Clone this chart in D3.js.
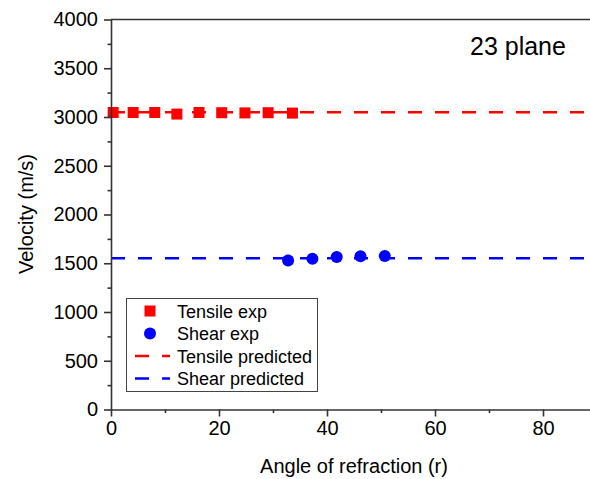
<!DOCTYPE html>
<html>
<head>
<meta charset="utf-8">
<script src="https://cdn.jsdelivr.net/npm/d3@7"></script>
<style>
  body { margin: 0; background: #fff; }
  svg { font-family: "Liberation Sans", Arial, sans-serif; }
</style>
</head>
<body>
<div id="chart"></div>
<script>
// Tensile experimental points
const tensileAngle = [0.4, 4.1, 8.1, 12.2, 16.3, 20.5, 24.8, 29.1, 33.6];
const tensileVel = [3046, 3046, 3046, 3030, 3046, 3044, 3042, 3044, 3040];
// Shear experimental points
const shearAngle = [32.8, 37.3, 41.8, 46.2, 50.7];
const shearVel = [1527, 1545, 1565, 1572, 1575];
// Predicted (constant) velocities
const tensilePred = 3048;
const shearPred = 1552;
const xTicks = [0, 20, 40, 60, 80];
const yTicks = [0, 500, 1000, 1500, 2000, 2500, 3000, 3500, 4000];

(function() {
    const W = 590, H = 479;
    const plotLeft = 111, plotTop = 19.5, plotBottom = 409.5;

    const svg = d3.select("#chart").append("svg")
        .attr("width", W)
        .attr("height", H);

    const x = d3.scaleLinear().domain([0, 90]).range([plotLeft, plotLeft + 90 * 5.4]);
    const y = d3.scaleLinear().domain([0, 4000]).range([plotBottom, plotTop]);

    // predicted lines
    const predLines = [
        {v: tensilePred, color: "#ff0000"},
        {v: shearPred, color: "#0000ff"}
    ];
    svg.selectAll("line.pred")
        .data(predLines)
        .enter()
        .append("line")
        .attr("class", "pred")
        .attr("x1", x(0))
        .attr("x2", x(90))
        .attr("y1", d => y(d.v))
        .attr("y2", d => y(d.v))
        .attr("stroke", d => d.color)
        .attr("stroke-width", 2.6)
        .attr("stroke-dasharray", "14,13");

    // tensile squares
    svg.selectAll("rect.tensile")
        .data(tensileAngle.map((a, i) => ({a, v: tensileVel[i]})))
        .enter()
        .append("rect")
        .attr("class", "tensile")
        .attr("x", d => x(d.a) - 5.5)
        .attr("y", d => y(d.v) - 5.5)
        .attr("width", 11)
        .attr("height", 11)
        .attr("fill", "#ff0000");

    // shear circles
    svg.selectAll("circle.shear")
        .data(shearAngle.map((a, i) => ({a, v: shearVel[i]})))
        .enter()
        .append("circle")
        .attr("class", "shear")
        .attr("cx", d => x(d.a))
        .attr("cy", d => y(d.v))
        .attr("r", 6)
        .attr("fill", "#0000ff");

    // axes
    svg.append("g")
        .attr("transform", `translate(0,${plotBottom})`)
        .call(d3.axisBottom(x).tickValues(xTicks).tickSize(7).tickPadding(4).tickSizeOuter(0));
    svg.append("g")
        .attr("transform", `translate(0,${plotBottom})`)
        .call(d3.axisBottom(x).tickValues([10, 30, 50, 70]).tickSize(3.5).tickFormat("").tickSizeOuter(0))
        .select(".domain").remove();

    svg.append("g")
        .attr("transform", `translate(${plotLeft},0)`)
        .call(d3.axisLeft(y).tickValues(yTicks).tickFormat(d3.format("d")).tickSize(7).tickPadding(6).tickSizeOuter(0));
    svg.append("g")
        .attr("transform", `translate(${plotLeft},0)`)
        .call(d3.axisLeft(y).tickValues(d3.range(250, 4000, 500)).tickSize(3.5).tickFormat("").tickSizeOuter(0))
        .select(".domain").remove();

    svg.selectAll(".tick text")
        .style("font-size", "20px")
        .style("font-family", "'Liberation Sans', Arial, sans-serif")
        .style("fill", "#000");
    svg.selectAll(".domain, .tick line")
        .attr("stroke", "#333")
        .attr("stroke-width", 1.6);

    // top frame line
    svg.append("line")
        .attr("x1", plotLeft)
        .attr("x2", x(90))
        .attr("y1", plotTop)
        .attr("y2", plotTop)
        .attr("stroke", "#333")
        .attr("stroke-width", 1.6);

    // axis titles
    svg.append("text")
        .attr("x", x(45))
        .attr("y", 473)
        .attr("text-anchor", "middle")
        .style("font-size", "20px")
        .text("Angle of refraction (r)");

    svg.append("text")
        .attr("transform", `translate(33,214) rotate(-90)`)
        .attr("text-anchor", "middle")
        .style("font-size", "20px")
        .text("Velocity (m/s)");

    svg.append("text")
        .attr("x", 470)
        .attr("y", 55)
        .style("font-size", "25px")
        .text("23 plane");

    // legend
    const legend = svg.append("g");
    legend.append("rect")
        .attr("x", 126.5)
        .attr("y", 298.5)
        .attr("width", 191)
        .attr("height", 93)
        .attr("fill", "#fff")
        .attr("stroke", "#444")
        .attr("stroke-width", 1);

    const items = [
        {label: "Tensile exp", type: "square", color: "#ff0000"},
        {label: "Shear exp", type: "circle", color: "#0000ff"},
        {label: "Tensile predicted", type: "line", color: "#ff0000"},
        {label: "Shear predicted", type: "line", color: "#0000ff"}
    ];
    items.forEach((it, i) => {
        const cy = 311 + i * 22.5;
        if (it.type === "square") {
            legend.append("rect")
                .attr("x", 150 - 5.5).attr("y", cy - 5.5)
                .attr("width", 11).attr("height", 11)
                .attr("fill", it.color);
        } else if (it.type === "circle") {
            legend.append("circle")
                .attr("cx", 150).attr("cy", cy).attr("r", 6)
                .attr("fill", it.color);
        } else {
            legend.append("line")
                .attr("x1", 127).attr("x2", 170)
                .attr("y1", cy).attr("y2", cy)
                .attr("stroke", it.color)
                .attr("stroke-width", 2.6)
                .attr("stroke-dasharray", "14,13")
                .attr("stroke-dashoffset", -8);
        }
        legend.append("text")
            .attr("x", 177)
            .attr("y", cy + 6.5)
            .style("font-size", "18px")
            .text(it.label);
    });
})();
</script>
</body>
</html>
